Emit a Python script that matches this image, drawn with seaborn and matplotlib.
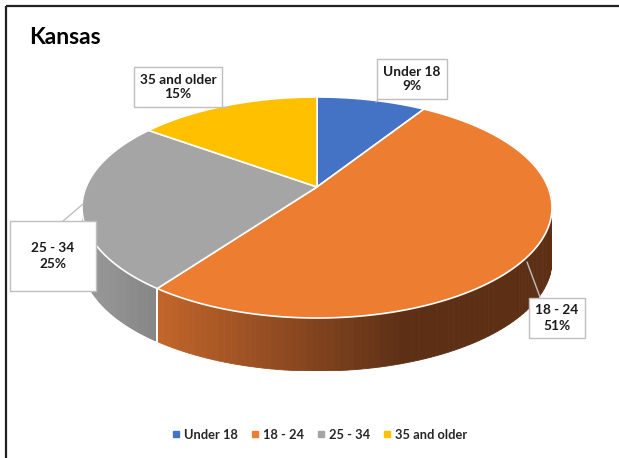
import numpy as np
import matplotlib
matplotlib.use("Agg")
import matplotlib.pyplot as plt
import matplotlib.transforms as mtransforms
import seaborn as sns
from matplotlib.colors import to_rgb
from matplotlib.lines import Line2D
from matplotlib.patches import Polygon, Rectangle
from matplotlib.path import Path

# datos
categories = ["Under 18", "18 - 24", "25 - 34", "35 and older"]
shares = [9, 51, 25, 15]
pct_labels = ["9%", "51%", "25%", "15%"]
colors = ["#4472C4", "#ED7D31", "#A5A5A5", "#FFC000"]
side_light = ["#3a62a8", "#c4662b", "#9a9a9a", "#d9a300"]
side_dark = ["#2c4a80", "#5d3016", "#858585", "#a67c00"]

W, H = 619, 458
DEPTH = 0.48   # grosor del pastel (unidades del eje y)
PERSP = 0.186  # inclinacion de perspectiva


class Perspectiva(mtransforms.Transform):
    """Proyeccion del disco unitario inclinado."""
    input_dims = 2
    output_dims = 2
    is_separable = False
    has_inverse = False

    def __init__(self, b):
        super().__init__()
        self.b = b
        self.s = np.sqrt(1 - b * b)

    def transform_non_affine(self, xy):
        xy = np.asarray(xy, dtype=float)
        u, v = xy[:, 0], xy[:, 1]
        d = 1 + self.b * v
        return np.column_stack([u * self.s / d, (v + self.b) / d])

    def transform_path_non_affine(self, path):
        # evaluar las curvas de Bezier con detalle antes de proyectar
        tt = np.linspace(0, 1, 24)
        pts = []
        for seg, code in path.iter_bezier():
            pts.append(seg(tt))
        verts = np.concatenate(pts)
        return Path(self.transform_non_affine(verts), closed=True)


persp = Perspectiva(PERSP)

sns.set_theme(style="white")
plt.rcParams['font.family'] = ['Lato', 'DejaVu Sans']

fig = plt.figure(figsize=(W / 100, H / 100), dpi=100)
fig.patch.set_facecolor("white")

# eje del pastel
cx, cy, rx, ry = 317, 207.5, 235, 110.5
top_px = cy - ry
bottom_px = cy + ry + DEPTH * ry
ax = fig.add_axes([(cx - rx) / W, (H - bottom_px) / H, 2 * rx / W,
                   (bottom_px - top_px) / H])

wedges, _ = ax.pie(shares, colors=sns.color_palette(colors), startangle=90,
                   counterclock=False, radius=1,
                   wedgeprops=dict(edgecolor="white", linewidth=1.2, zorder=5))
for w in wedges:
    w.set_transform(persp + ax.transData)
ax.set_aspect("auto")
ax.set_xlim(-1, 1)
ax.set_ylim(-1 - DEPTH, 1)
ax.axis("off")


def borde(t):
    return persp.transform_non_affine(np.array([[np.cos(t), np.sin(t)]]))[0]


# laterales 3D (mitad frontal), degradado horizontal
x_light, x_dark = -0.70, 0.35
for i, w in enumerate(wedges):
    c0, c1 = np.array(to_rgb(side_light[i])), np.array(to_rgb(side_dark[i]))
    for k in (-1, 0, 1):
        a0 = max(w.theta1, 180 + 360 * k)
        a1 = min(w.theta2, 360 + 360 * k)
        if a1 <= a0:
            continue
        n = 90
        ts = np.radians(np.linspace(a0, a1, n + 1))
        for j in range(n):
            p0, p1 = borde(ts[j]), borde(ts[j + 1])
            if i == 2:
                f = np.clip((p0[0] + 1) / 0.32, 0, 1)
            else:
                f = np.clip((p0[0] - x_light) / (x_dark - x_light), 0, 1)
            col = c0 + (c1 - c0) * f
            pts = [p0, p1, (p1[0], p1[1] - DEPTH), (p0[0], p0[1] - DEPTH)]
            ax.add_patch(Polygon(pts, closed=True, facecolor=col, edgecolor=col,
                                 linewidth=0.6, zorder=2))
    for a in (w.theta1, w.theta2):
        if np.sin(np.radians(a)) < -0.01:
            p = borde(np.radians(a))
            ax.plot([p[0], p[0]], [p[1], p[1] - DEPTH], color="white",
                    lw=1.2, zorder=3)

# capa superior en pixeles
ov = fig.add_axes([0, 0, 1, 1])
ov.set_xlim(0, W)
ov.set_ylim(H, 0)
ov.axis("off")
ov.patch.set_alpha(0)

ov.add_patch(Rectangle((6, 6), W, H, fill=False, edgecolor="#222222", lw=1.6))
ov.text(29, 37, "Kansas", fontsize=16.5, fontweight="bold", color="black",
        ha="left", va="center")

# etiquetas con lineas guia
label_pos = [(412, 79), (557, 318), (53, 256), (178, 87)]
anchor = [(376, 102), (527, 262), (83, 204), (228, 107)]
elbow = [(380, 97), (540, 297), (62, 222), (222, 107)]
pads = [0.45, 0.45, 1.6, 0.45]
for i, cat in enumerate(categories):
    ov.plot([anchor[i][0], elbow[i][0]], [anchor[i][1], elbow[i][1]],
            color="#bfbfbf", lw=1, zorder=6)
    ov.text(label_pos[i][0], label_pos[i][1], f"{cat}\n{pct_labels[i]}",
            fontsize=9.8, fontweight="bold", color="#1a1a1a", ha="center",
            va="center", linespacing=1.3, zorder=7,
            bbox=dict(boxstyle=f"square,pad={pads[i]}", facecolor="white",
                      edgecolor="#bfbfbf", lw=1))

handles = [Line2D([0], [0], marker="s", linestyle="none", markersize=4.5,
                  markerfacecolor=c, markeredgecolor=c) for c in colors]
fig.legend(handles, categories, loc="center", bbox_to_anchor=(320 / W, 1 - 435 / H),
           ncol=4, frameon=False, handlelength=0.5, handletextpad=0.35,
           columnspacing=1.1, prop=dict(size=9.3, weight="bold"))

fig.savefig("out.png", dpi=100)
